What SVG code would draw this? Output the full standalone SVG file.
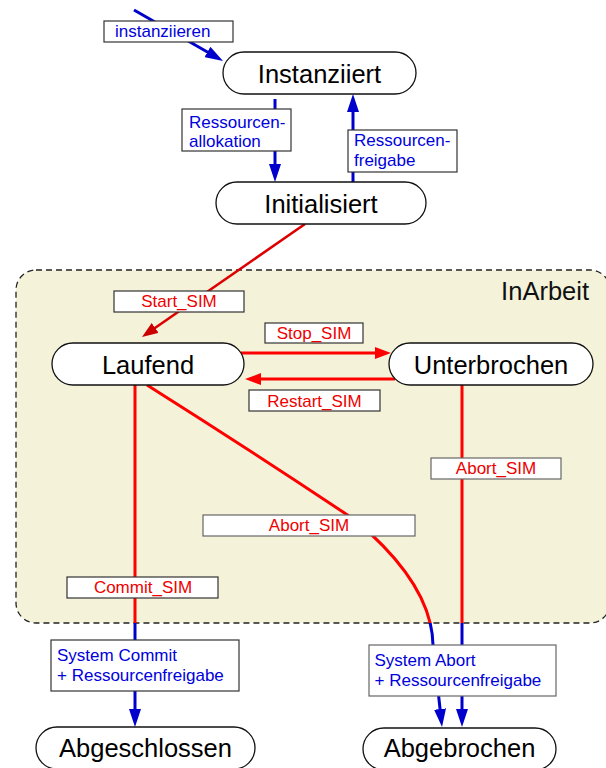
<svg xmlns="http://www.w3.org/2000/svg" width="606" height="768" viewBox="0 0 606 768">
<style>
text{font-family:"Liberation Sans",Arial,Helvetica,sans-serif}
.node rect{fill:#fff;stroke:#111;stroke-width:1.3}
.node text{font-size:25.5px;fill:#000;text-anchor:middle}
.lbl{fill:#fff;stroke:#333;stroke-width:1.2}
.lblg{fill:#fff;stroke:#666;stroke-width:1.2}
.tb{font-size:17px;fill:#0000dd}
.tr{font-size:17px;fill:#ee0000;text-anchor:middle}
.eb{fill:none;stroke:#0000cc;stroke-width:3}
.er{fill:none;stroke:#ff0000;stroke-width:3}
.ed{fill:none;stroke:#dd0000;stroke-width:2.6}
</style>
<defs>
<marker id="ab" viewBox="0 0 18 12" refX="4" refY="6" markerWidth="18" markerHeight="12" markerUnits="userSpaceOnUse" orient="auto"><path d="M0,0 L18,6 L0,12 z" fill="#0000cc"/></marker>
<marker id="ar" viewBox="0 0 16 12" refX="2" refY="6" markerWidth="16" markerHeight="12" markerUnits="userSpaceOnUse" orient="auto"><path d="M0,0 L16,6 L0,12 z" fill="#ff0000"/></marker>
<marker id="ad" viewBox="0 0 16 12" refX="2" refY="6" markerWidth="16" markerHeight="12" markerUnits="userSpaceOnUse" orient="auto"><path d="M0,0 L16,6 L0,12 z" fill="#cc0000"/></marker>
<clipPath id="cin"><rect x="0" y="0" width="606" height="623"/></clipPath>
<clipPath id="cout"><rect x="0" y="623" width="606" height="145"/></clipPath>
</defs>
<rect width="606" height="768" fill="#fff"/>
<g id="InArbeit">
<rect x="16" y="270" width="594" height="353" rx="20" fill="#f4f3da" stroke="#222" stroke-width="1.3" stroke-dasharray="6 4"/>
<text x="589" y="300" font-size="25.5" text-anchor="end" fill="#111">InArbeit</text>
</g>
<g id="connectors">
<path class="eb" d="M134,10 L210.9,54" marker-end="url(#ab)"/>
<path class="eb" d="M275,99 L275,168" marker-end="url(#ab)"/>
<path class="eb" d="M353,182 L353,108" marker-end="url(#ab)"/>
<path class="ed" d="M305,224 L153.5,329" marker-end="url(#ad)"/>
<path class="er" d="M241,353 L377,353" marker-end="url(#ar)"/>
<path class="er" d="M395,379 L259,379" marker-end="url(#ar)"/>
<path class="er" d="M135,385 L135,623"/>
<path class="eb" d="M135,623 L135,713" marker-end="url(#ab)"/>
<path class="er" d="M462,385 L462,623"/>
<path class="eb" d="M462,623 L462,713" marker-end="url(#ab)"/>
<path class="er" clip-path="url(#cin)" d="M147,385 Q250,450 355,520 C385,545 432,590 433,645"/>
<path class="eb" clip-path="url(#cout)" d="M147,385 Q250,450 355,520 C385,545 432,590 433,645 L440.5,713" marker-end="url(#ab)"/>
<g id="lbl-instanziieren"><rect class="lbl" x="104" y="21" width="129" height="21"/><text class="tb" x="115" y="37">instanziieren</text></g>
<g id="lbl-allokation"><rect class="lbl" x="182" y="109" width="109" height="42"/><text class="tb" x="189" y="127.5">Ressourcen-</text><text class="tb" x="189" y="146.5">allokation</text></g>
<g id="lbl-freigabe"><rect class="lbl" x="348" y="130" width="109" height="42"/><text class="tb" x="354" y="146">Ressourcen-</text><text class="tb" x="354" y="165.5">freigabe</text></g>
<g id="lbl-start"><rect class="lbl" x="114" y="291" width="130" height="21"/><text class="tr" x="179" y="307">Start_SIM</text></g>
<g id="lbl-stop"><rect class="lbl" x="265" y="323" width="98" height="20"/><text class="tr" x="314" y="338.5">Stop_SIM</text></g>
<g id="lbl-restart"><rect class="lbl" x="249" y="390" width="131" height="21"/><text class="tr" x="314.5" y="406.5">Restart_SIM</text></g>
<g id="lbl-abort1"><rect class="lblg" x="431" y="458" width="130" height="21"/><text class="tr" x="496" y="474">Abort_SIM</text></g>
<g id="lbl-abort2"><rect class="lblg" x="203" y="515" width="212" height="21"/><text class="tr" x="309" y="531">Abort_SIM</text></g>
<g id="lbl-commit"><rect class="lbl" x="67" y="577" width="151" height="21"/><text class="tr" x="143" y="593">Commit_SIM</text></g>
<g id="lbl-syscommit"><rect class="lbl" x="51" y="640" width="188" height="51"/><text class="tb" x="57" y="661">System Commit</text><text class="tb" x="57" y="680.5">+ Ressourcenfreigabe</text></g>
<g id="lbl-sysabort"><rect class="lblg" x="369" y="645" width="187" height="51"/><text class="tb" x="374.5" y="666">System Abort</text><text class="tb" x="374.5" y="685.5">+ Ressourcenfreigabe</text></g>
</g>
<g id="Instanziiert" class="node"><rect x="223" y="52" width="193" height="42" rx="21"/><text x="319.5" y="83">Instanziiert</text></g>
<g id="Initialisiert" class="node"><rect x="216" y="182" width="210" height="42" rx="21"/><text x="321" y="213">Initialisiert</text></g>
<g id="Laufend" class="node"><rect x="52" y="343" width="192" height="42" rx="21"/><text x="148" y="374">Laufend</text></g>
<g id="Unterbrochen" class="node"><rect x="389" y="343" width="204" height="42" rx="21"/><text x="491" y="374">Unterbrochen</text></g>
<g id="Abgeschlossen" class="node"><rect x="36" y="727" width="219" height="42" rx="21"/><text x="145.5" y="756.5">Abgeschlossen</text></g>
<g id="Abgebrochen" class="node"><rect x="363" y="728" width="193" height="42" rx="21"/><text x="459.5" y="756.5">Abgebrochen</text></g>
</svg>
